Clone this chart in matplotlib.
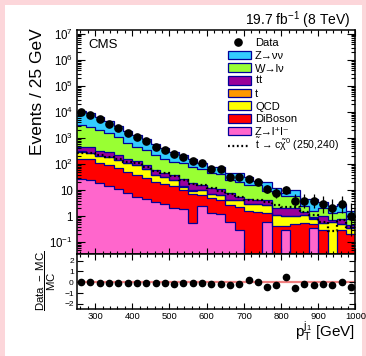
import numpy as np
import matplotlib
matplotlib.use('Agg')
import matplotlib.pyplot as plt
from matplotlib.patches import Rectangle
from matplotlib.lines import Line2D
from matplotlib.ticker import FixedLocator, FixedFormatter, LogLocator, MultipleLocator, NullFormatter

plt.rcParams['font.family'] = ['Liberation Sans', 'DejaVu Sans']
plt.rcParams['mathtext.fontset'] = 'custom'
plt.rcParams['mathtext.rm'] = 'Liberation Sans'
plt.rcParams['mathtext.it'] = 'Liberation Sans'
plt.rcParams['mathtext.bf'] = 'Liberation Sans:bold'
plt.rcParams['mathtext.sf'] = 'Liberation Sans'

# ---------------- data ----------------
x_lo, x_hi, bin_w = 250, 1000, 25

zll = [26, 24.7, 19.6, 14.5, 10.8, 7.6, 5.3, 4.5, 3.6, 2.9, 2.0, 1.9, 0.55, 2.4, 1.3,
       1.2, 0.6, 0.3, 0, 0, 0.6, 0, 0.3, 0, 0, 0.35, 0, 0, 0, 0]
diboson = [139, 127, 94, 78, 58, 43, 33, 24.5, 17.4, 14.1, 12.5, 8.1, 6.4, 4.2, 3.6,
           3.0, 2.1, 1.9, 1.6, 1.5, 0.7, 0.43, 0.13, 0.5, 0.55, 0.15, 0.3, 0, 0.3, 0.2]
qcd = [137, 111, 90, 89, 76, 56, 51, 34, 17, 14, 10, 3.8, 2.6, 3.4, 2.1,
       2.4, 1.5, 2.0, 1.3, 1.5, 1.4, 0.67, 0.57, 0.5, 0.55, 0.3, 0.25, 0.6, 0.2, 0.15]
single_t = [6, 5, 4, 3.5, 3, 2.3, 1.8, 1.4, 1.0, 0.8, 0.6, 0.5, 0.4, 0.3, 0.25,
            0.2, 0.15, 0.12, 0.1, 0.08, 0.07, 0.05, 0.04, 0.03, 0.03, 0.02, 0.02, 0.01, 0.01, 0.01]
ttbar = [160, 179, 123, 110, 76, 46, 38, 29, 21, 15, 13, 11.7, 9, 5.7, 5.2,
         4.2, 3.2, 1.3, 1.5, 1.1, 1.4, 0.85, 0.96, 0.97, 0.27, 0.08, 0.43, 0.09, 0.29, 0.09]
wlnu = [2692, 2303, 1709, 1215, 846, 521, 339, 254, 164, 108, 82, 81, 61, 47, 32,
        30, 17, 15.4, 11.5, 11.8, 5.4, 5.6, 4.0, 3.8, 1.0, 0.7, 1.0, 0.6, 0.6, 0.35]
znunu = [8040, 6150, 4260, 2860, 1880, 1274, 882, 543, 366, 252, 165, 117, 75, 52, 35,
         39, 22, 23, 15, 7, 10.4, 4.4, 2.0, 4.2, 2.4, 3.0, 1.6, 1.1, 1.5, 0.8]
signal = [275, 263, 224, 195, 160, 126, 107, 75, 56, 47, 35, 24.5, 18, 16, 12,
          9.6, 7, 5.6, 4.2, 4.2, 3.6, 2.7, 2.3, 2.3, 1.5, 1.1, 0.6, 0.26, 0.7, 0.4]
data = [9800, 7800, 5400, 3560, 2380, 1620, 1140, 780, 470, 360, 245, 182, 131, 107, 63,
        63, 33, 33, 26, 21, 11, 8, 10, 4, 4, 4, 3, 2, 3, 1]
ratio = [0.0, -0.02, -0.03, -0.05, -0.07, -0.07, -0.08, -0.03, -0.1, -0.1, -0.15, -0.1,
         -0.1, -0.1, -0.18, -0.18, -0.27, -0.15, 0.2, 0.0, -0.43, -0.22, 0.45, -0.5,
         -0.15, -0.22, -0.18, -0.25, 0.05, -0.42]

y_ticks = [0.1, 1, 10, 1e2, 1e3, 1e4, 1e5, 1e6, 1e7]
y_tick_labels = [r'$10^{-1}$', '1', '10', r'$10^{2}$', r'$10^{3}$', r'$10^{4}$',
                 r'$10^{5}$', r'$10^{6}$', r'$10^{7}$']
x_ticks = [300, 400, 500, 600, 700, 800, 900, 1000]
r_ticks = [-2, -1, 0, 1, 2]

leg_labels = ['Data', 'Z\u2192\u03bd\u03bd', 'W\u2192l\u03bd', r't$\bar{\rm t}$', 't', 'QCD',
              'DiBoson', 'Z\u2192l\u207al\u207b',
              r'$\tilde{\rm t}$ ' + '\u2192' + r' c$\tilde{\chi}^{0}$ (250,240)']

# ---------------- styles ----------------
colors = ['#ff66cc', '#ff0000', '#ffff00', '#ff9900', '#990099', '#99ff33', '#33ccff']
edge_col = '#000099'

W, H = 366, 356
fig = plt.figure(figsize=(W / 100, H / 100), dpi=100)
fig.patch.set_facecolor('#fcd6da')
fig.add_artist(Rectangle((5 / W, 0), 356.5 / W, 351 / H, transform=fig.transFigure,
                         facecolor='white', edgecolor='none', zorder=-10))

def px_axes(l, t, r, b):
    return fig.add_axes([l / W, 1 - b / H, (r - l) / W, (b - t) / H])

AX_L, AX_R, AX_T, AX_B = 76.5, 355.5, 30, 254
ax = px_axes(AX_L, AX_T, AX_R, AX_B)
rax = px_axes(AX_L, AX_B, AX_R, 309)

edges = np.arange(x_lo, x_hi + bin_w, bin_w)
centers = edges[:-1] + bin_w / 2
n = len(centers)

comps = [zll, diboson, qcd, single_t, ttbar, wlnu, znunu]
base = np.full(n, 1e-5)
for vals, col in zip(comps, colors):
    topv = base + np.asarray(vals, float)
    ax.stairs(topv, edges, baseline=base, fill=True, facecolor=col, edgecolor='none', zorder=1)
    ax.stairs(topv, edges, baseline=None, color=edge_col, lw=0.9, zorder=2)
    base = topv

ax.stairs(signal, edges, baseline=None, color='k', lw=1.6, ls=(0, (0.8, 1.2)), zorder=4)

d = np.asarray(data, float)
lo_b = d * (1 - 1 / (9 * d) - 1 / (3 * np.sqrt(d))) ** 3
hi_b = d + np.sqrt(d + 0.75) + 1
ax.errorbar(centers, d, yerr=[d - lo_b, hi_b - d], fmt='o', color='k', ms=5.2,
            elinewidth=0.9, capsize=0, zorder=5)

ax.set_yscale('log')
ax.set_xlim(x_lo, x_hi)
ax.set_ylim(0.0355, 1.42e7)
ax.yaxis.set_major_locator(FixedLocator(y_ticks))
ax.yaxis.set_major_formatter(FixedFormatter(y_tick_labels))
ax.yaxis.set_minor_locator(LogLocator(base=10, subs=np.arange(2, 10), numticks=20))
ax.yaxis.set_minor_formatter(NullFormatter())
ax.xaxis.set_major_locator(FixedLocator(x_ticks))
ax.xaxis.set_minor_locator(MultipleLocator(20))
ax.tick_params(which='both', direction='in', top=True, right=True, labelbottom=False, width=0.8)
ax.tick_params(axis='y', which='major', length=6, labelsize=8.3, pad=2.5)
ax.tick_params(axis='y', which='minor', length=3)
ax.tick_params(axis='x', which='major', length=4.5)
ax.tick_params(axis='x', which='minor', length=2.3)
for s in ax.spines.values():
    s.set_linewidth(1.1)

# ratio panel
rax.axhline(0, color='#f08080', lw=1.6, zorder=1)
rax.plot(centers, ratio, 'o', color='k', ms=4.5, zorder=3)
rax.set_xlim(x_lo, x_hi)
rax.set_ylim(-2.47, 2.61)
rax.yaxis.set_major_locator(FixedLocator(r_ticks))
rax.xaxis.set_major_locator(FixedLocator(x_ticks))
rax.xaxis.set_minor_locator(MultipleLocator(20))
rax.tick_params(which='both', direction='in', top=True, right=True, width=0.8)
rax.tick_params(axis='y', which='major', length=4, labelsize=6, pad=2)
rax.tick_params(axis='x', which='major', length=4.5, labelsize=6.8, pad=2.5)
rax.tick_params(axis='x', which='minor', length=2.3)
for s in rax.spines.values():
    s.set_linewidth(1.1)

# texts
fig.text(37 / W, 1 - 28 / H, 'Events / 25 GeV', rotation=90, ha='center', va='top', fontsize=12.5)
fig.text(350 / W, 1 - 20.5 / H, r'19.7 fb$^{-1}$ (8 TeV)', ha='right', va='center', fontsize=10)
fig.text(88 / W, 1 - 45 / H, 'CMS', ha='left', va='center', fontsize=9.5)
fig.text(355 / W, 1 - 337 / H, r'p$_{\rm T}^{\rm j_{1}}$ [GeV]', ha='right', va='baseline', fontsize=11)
fig.text(46 / W, 1 - 281 / H, r'$\dfrac{\rm Data\ -\ MC}{\rm MC}$', rotation=90,
         ha='center', va='center', fontsize=8.2)

# legend (manual, ROOT-like)
leg_colors = [None, '#33ccff', '#99ff33', '#990099', '#ff9900', '#ffff00', '#ff0000', '#ff66cc', None]
row_y = [42.3, 55.0, 67.7, 80.4, 93.1, 105.8, 118.5, 131.0, 145.5]
box_l, box_r, box_h, txt_x = 228, 251, 8.7, 255
for i, (lab, col) in enumerate(zip(leg_labels, leg_colors)):
    yc = row_y[i]
    if i == 0:
        fig.add_artist(Line2D([238 / W], [1 - yc / H], marker='o', color='k', ms=5.2,
                              ls='none', transform=fig.transFigure))
    elif col is None:
        fig.add_artist(Line2D([box_l / W, (box_r - 2) / W], [1 - yc / H] * 2, color='k', lw=1.6,
                              ls=(0, (0.8, 1.2)), transform=fig.transFigure))
    else:
        fig.add_artist(Rectangle((box_l / W, 1 - (yc + box_h / 2) / H), (box_r - box_l) / W,
                                 box_h / H, transform=fig.transFigure, facecolor=col,
                                 edgecolor=edge_col, lw=0.9))
    fs = 7.6 if i == len(leg_labels) - 1 else 8
    fig.text(txt_x / W, 1 - (yc + 3.8) / H, lab, ha='left', va='baseline', fontsize=fs)

fig.savefig('out.png', dpi=100, facecolor=fig.get_facecolor())
